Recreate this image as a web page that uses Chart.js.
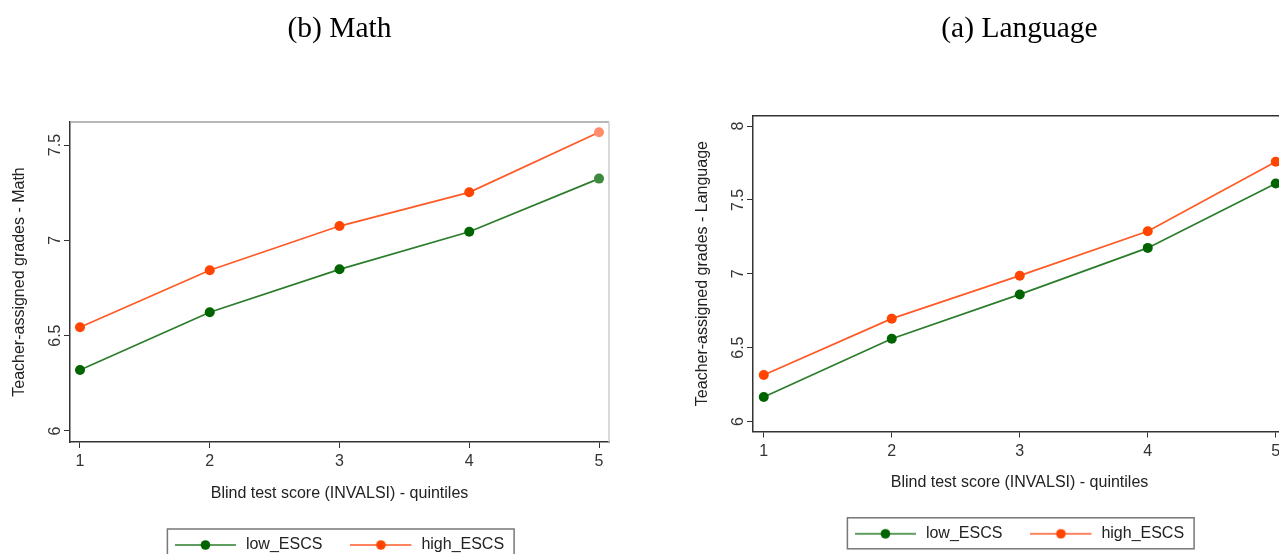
<!DOCTYPE html>
<html>
<head>
<meta charset="utf-8">
<script src="https://cdn.jsdelivr.net/npm/chart.js@4.4.1/dist/chart.umd.min.js"></script>
<style>
  html, body { margin: 0; padding: 0; background: #fff; width: 1279px; height: 554px; overflow: hidden; }
  canvas { position: absolute; top: 0; }
  #math { left: 0; }
  #lang { left: 683px; }
</style>
</head>
<body>
<canvas id="math" width="679" height="565"></canvas>
<canvas id="lang" width="675" height="554"></canvas>
<script>
// ---- data ----
const quintiles = [1, 2, 3, 4, 5];
const seriesNames = ['low_ESCS', 'high_ESCS'];
const mathLow  = [6.320, 6.623, 6.848, 7.045, 7.324];
const mathHigh = [6.544, 6.843, 7.075, 7.252, 7.567];
const langLow  = [6.165, 6.560, 6.860, 7.175, 7.611];
const langHigh = [6.314, 6.696, 6.987, 7.288, 7.758];
const mathYTicks = [6, 6.5, 7, 7.5];
const langYTicks = [6, 6.5, 7, 7.5, 8];
const xTicks = [1, 2, 3, 4, 5];
const mathTitle = '(b) Math';
const langTitle = '(a) Language';
const mathYLabel = 'Teacher-assigned grades - Math';
const langYLabel = 'Teacher-assigned grades - Language';
const xLabel = 'Blind test score (INVALSI) - quintiles';

// ---- styles ----
const SANS = "'Liberation Sans', Arial, sans-serif";
const SERIF = "'Liberation Serif', 'Times New Roman', serif";
const GREEN_LINE = '#2b7d2b', GREEN_PT = '#006400';
const ORANGE_LINE = '#ff5a26', ORANGE_PT = '#ff4500';

function legendIcon(lineColor, dotColor) {
  const c = document.createElement('canvas');
  c.width = 63; c.height = 12;
  const g = c.getContext('2d');
  g.strokeStyle = lineColor; g.lineWidth = 1.5;
  g.beginPath(); g.moveTo(0, 6); g.lineTo(61, 6); g.stroke();
  g.fillStyle = dotColor;
  g.beginPath(); g.arc(30.5, 6, 4.8, 0, Math.PI * 2); g.fill();
  return c;
}
const icons = [legendIcon(GREEN_LINE, GREEN_PT), legendIcon(ORANGE_LINE, ORANGE_PT)];

const framePlugin = {
  id: 'frame',
  beforeDatasetsDraw(chart, args, opts) {
    const a = chart.chartArea, ctx = chart.ctx;
    ctx.save();
    ctx.lineWidth = 1.5;
    ctx.strokeStyle = opts.topColor;
    ctx.beginPath(); ctx.moveTo(a.left, a.top); ctx.lineTo(a.right, a.top); ctx.stroke();
    ctx.strokeStyle = opts.rightColor;
    ctx.beginPath(); ctx.moveTo(a.right, a.top); ctx.lineTo(a.right, a.bottom); ctx.stroke();
    ctx.restore();
  }
};
const legendBoxPlugin = {
  id: 'legendBox',
  afterDraw(chart) {
    const hb = chart.legend && chart.legend.legendHitBoxes;
    if (!hb || !hb.length) return;
    let l = Infinity, r = -Infinity, cy = 0;
    hb.forEach(h => { l = Math.min(l, h.left); r = Math.max(r, h.left + h.width); cy = h.top + h.height / 2; });
    const ctx = chart.ctx;
    ctx.save();
    ctx.strokeStyle = '#777'; ctx.lineWidth = 1.5;
    ctx.strokeRect(l - 7.5, cy - 16, (r + 10) - (l - 7.5), 31);
    ctx.restore();
  }
};

function makeChart(id, o) {
  const pts = arr => quintiles.map((q, i) => ({ x: q, y: arr[i] }));
  return new Chart(document.getElementById(id), {
    type: 'line',
    data: {
      datasets: [
        { label: seriesNames[0], data: pts(o.low), borderColor: GREEN_LINE, borderWidth: 1.7,
          pointBackgroundColor: o.lowPts, pointBorderColor: o.lowPts, pointRadius: 5, pointBorderWidth: 0 },
        { label: seriesNames[1], data: pts(o.high), borderColor: ORANGE_LINE, borderWidth: 1.7,
          pointBackgroundColor: o.highPts, pointBorderColor: o.highPts, pointRadius: 5, pointBorderWidth: 0 }
      ]
    },
    plugins: [framePlugin, legendBoxPlugin],
    options: {
      responsive: false,
      animation: false,
      events: [],
      layout: { padding: o.padding },
      plugins: {
        frame: { topColor: o.topColor, rightColor: o.rightColor },
        tooltip: { enabled: false },
        title: {
          display: true, text: o.title, fullSize: false, color: '#000',
          font: { family: SERIF, size: 29.5, weight: 'normal' },
          padding: o.titlePad
        },
        legend: {
          display: true, position: 'bottom', fullSize: false,
          labels: {
            usePointStyle: true, pointStyleWidth: 63, padding: 28, color: '#222',
            font: { family: SANS, size: 16 },
            generateLabels: (chart) => chart.data.datasets.map((ds, i) => ({
              text: ds.label, pointStyle: icons[i], fillStyle: ds.borderColor,
              strokeStyle: ds.borderColor, lineWidth: 0, hidden: false, datasetIndex: i, fontColor: '#222'
            }))
          }
        }
      },
      scales: {
        x: {
          type: 'linear', min: o.xMin, max: o.xMax,
          afterBuildTicks: s => { s.ticks = xTicks.map(v => ({ value: v })); },
          afterFit: s => { s.height = o.xHeight; },
          border: { display: true, color: '#333', width: 1.5 },
          grid: { display: true, drawOnChartArea: false, drawTicks: true, tickLength: 6, color: '#333', lineWidth: 1 },
          ticks: { color: '#333', font: { family: SANS, size: 16 }, padding: 4, maxRotation: 0, callback: v => String(v) },
          title: { display: true, text: xLabel, color: '#222', font: { family: SANS, size: 16 }, padding: { top: 0, bottom: 6 } }
        },
        y: {
          type: 'linear', min: o.yMin, max: o.yMax,
          afterBuildTicks: s => { s.ticks = o.yTicks.map(v => ({ value: v })); },
          afterFit: s => { s.width = 70; },
          border: { display: true, color: '#333', width: 1.5 },
          grid: { display: true, drawOnChartArea: false, drawTicks: true, tickLength: 6, color: '#333', lineWidth: 1 },
          ticks: { color: '#333', font: { family: SANS, size: 16 }, padding: -3, crossAlign: 'center',
                   minRotation: 90, maxRotation: 90, callback: v => String(v) },
          title: { display: true, text: o.yLabel, color: '#222', font: { family: SANS, size: 16 }, padding: { top: 9.6, bottom: 0 } }
        }
      }
    }
  });
}

makeChart('math', {
  low: mathLow, high: mathHigh, yTicks: mathYTicks, title: mathTitle, yLabel: mathYLabel,
  yMin: 5.942, yMax: 7.621, xMin: 0.923, xMax: 5.077,
  padding: { top: 0, right: 70, bottom: 2, left: 0 },
  titlePad: { top: 11.1, bottom: 75.5 }, xHeight: 67,
  topColor: '#a0a0a0', rightColor: '#cccccc',
  lowPts: [GREEN_PT, GREEN_PT, GREEN_PT, GREEN_PT, '#3d8a3d'],
  highPts: [ORANGE_PT, ORANGE_PT, ORANGE_PT, ORANGE_PT, '#ff8c6a']
});

makeChart('lang', {
  low: langLow, high: langHigh, yTicks: langYTicks, title: langTitle, yLabel: langYLabel,
  yMin: 5.932, yMax: 8.07, xMin: 0.916, xMax: 5.08,
  padding: { top: 0, right: 72, bottom: 2.2, left: 0 },
  titlePad: { top: 11.1, bottom: 69.2 }, xHeight: 66.3,
  topColor: '#333', rightColor: '#333',
  lowPts: GREEN_PT, highPts: ORANGE_PT
});
</script>
</body>
</html>
